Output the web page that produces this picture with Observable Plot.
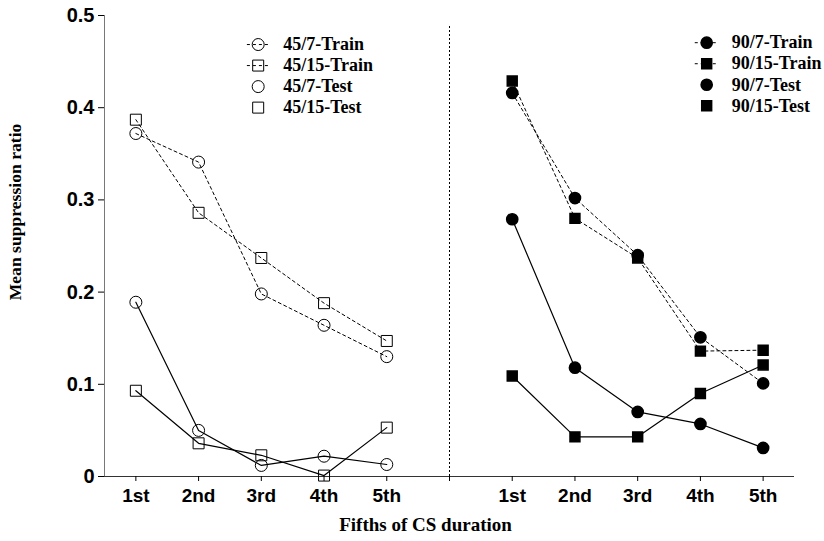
<!DOCTYPE html>
<html>
<head>
<meta charset="utf-8">
<script src="https://cdn.jsdelivr.net/npm/d3@7"></script>
<script src="https://cdn.jsdelivr.net/npm/@observablehq/plot@0.6"></script>
<style>
  html, body { margin: 0; padding: 0; background: #fff; }
  #chart { width: 824px; height: 541px; }
</style>
</head>
<body>
<div id="chart"></div>
<script>
// ---- data ----
const fifths = ["1st", "2nd", "3rd", "4th", "5th"];
const yTicks = [0, 0.1, 0.2, 0.3, 0.4, 0.5];

const train45_7  = [0.372, 0.341, 0.198, 0.164, 0.130];
const train45_15 = [0.387, 0.286, 0.237, 0.188, 0.147];
const test45_7   = [0.189, 0.050, 0.012, 0.022, 0.013];
const test45_15  = [0.093, 0.036, 0.023, 0.001, 0.053];

const train90_7  = [0.416, 0.302, 0.240, 0.151, 0.101];
const train90_15 = [0.429, 0.280, 0.237, 0.136, 0.137];
const test90_7   = [0.279, 0.118, 0.070, 0.057, 0.031];
const test90_15  = [0.109, 0.043, 0.043, 0.090, 0.121];

const seriesNames = ["45/7-Train", "45/15-Train", "45/7-Test", "45/15-Test",
                     "90/7-Train", "90/15-Train", "90/7-Test", "90/15-Test"];
const seriesValues = [train45_7, train45_15, test45_7, test45_15,
                      train90_7, train90_15, test90_7, test90_15];

const xLabel = "Fifths of CS duration";
const yLabel = "Mean suppression ratio";

// ---- build table ----
const n = fifths.length;
const series = seriesNames.map((name, i) => {
  const panel = name.startsWith("45") ? 0 : 1;
  return {
    name,
    panel,
    train: name.endsWith("Train"),
    square: name.includes("/15"),
    filled: panel === 1,
    values: seriesValues[i],
    row: i % 4
  };
});
const rows = series.flatMap(s => s.values.map((v, j) => ({
  name: s.name, x: s.panel * (n + 1) + j + 1, y: v,
  train: s.train, square: s.square, filled: s.filled
})));
const dividerX = n + 1;
const xTickPositions = d3.range(1, 2 * n + 2);
const tickLabel = p => p === dividerX ? "" : fifths[(p - 1) % (n + 1)];

// legend layout
const legend = series.map(s => ({
  ...s,
  mx: s.panel === 0 ? 2.95 : 10.1,
  lx1: s.panel === 0 ? 2.77 : 9.91,
  lx2: s.panel === 0 ? 3.12 : 10.28,
  tx: s.panel === 0 ? 3.35 : 10.5,
  ly: (s.panel === 0 ? 0.4685 : 0.4705) - s.row * 0.0228
}));

const serif = "'Liberation Serif', 'Times New Roman', serif";
const sans = "'Liberation Sans', Arial, sans-serif";

function dots(data, extra) {
  return [
    Plot.dot(data.filter(d => !d.square && !d.filled), {...extra, symbol: "circle", r: 6, stroke: "black", fill: "none", strokeWidth: 1}),
    Plot.dot(data.filter(d => d.square && !d.filled), {...extra, symbol: "square", r: 6.2, stroke: "black", fill: "none", strokeWidth: 1}),
    Plot.dot(data.filter(d => !d.square && d.filled), {...extra, symbol: "circle", r: 5.6, fill: "black", stroke: "black"}),
    Plot.dot(data.filter(d => d.square && d.filled), {...extra, symbol: "square", r: 5.6, fill: "black", stroke: "black"})
  ];
}

const chart = Plot.plot({
  width: 824,
  height: 541,
  marginTop: 15,
  marginRight: 30,
  marginBottom: 65,
  marginLeft: 104,
  style: {background: "#fff", color: "#000"},
  x: {domain: [0.5, 2 * n + 1.5]},
  y: {domain: [0, 0.5]},
  marks: [
    // axis lines
    Plot.ruleY([0], {stroke: "#333", strokeWidth: 1}),
    Plot.ruleX([0.5], {stroke: "#555", strokeWidth: 0.8}),
    // divider
    Plot.ruleX([dividerX], {y1: 0, y2: 0.489, stroke: "black", strokeDasharray: "2,2", strokeWidth: 1}),
    // axes
    Plot.axisY({ticks: yTicks, tickFormat: d => d === 0 ? "0" : d.toFixed(1), tickSize: 6, tickPadding: 4,
      fontSize: 20, fontWeight: "bold", fontFamily: sans, label: null}),
    Plot.axisX({ticks: xTickPositions, tickFormat: tickLabel, tickSize: 5, tickPadding: 7,
      fontSize: 19, fontWeight: "bold", fontFamily: sans, label: null}),
    // lines
    Plot.line(rows.filter(d => d.train), {x: "x", y: "y", z: "name", stroke: "black", strokeWidth: 1, strokeDasharray: "3,3"}),
    Plot.line(rows.filter(d => !d.train), {x: "x", y: "y", z: "name", stroke: "black", strokeWidth: 1.2}),
    ...dots(rows, {x: "x", y: "y"}),
    // legend
    Plot.link(legend.filter(d => d.train), {x1: "lx1", x2: "lx2", y1: "ly", y2: "ly", stroke: "black", strokeWidth: 1, strokeDasharray: "3,3"}),
    ...dots(legend, {x: "mx", y: "ly"}),
    Plot.text(legend, {x: "tx", y: "ly", text: "name", textAnchor: "start", fontFamily: serif, fontWeight: "bold", fontSize: 18, fill: "black"}),
    // axis titles
    Plot.text([xLabel], {frameAnchor: "bottom", textAnchor: "middle", lineAnchor: "middle", dx: -24, dy: 48, fontFamily: serif, fontWeight: "bold", fontSize: 19, fill: "black"}),
    Plot.text([yLabel], {frameAnchor: "left", textAnchor: "middle", lineAnchor: "middle", rotate: -90, dx: -89, dy: -34, fontFamily: serif, fontWeight: "bold", fontSize: 17.6, fill: "black"})
  ]
});
document.getElementById("chart").appendChild(chart);
</script>
</body>
</html>
